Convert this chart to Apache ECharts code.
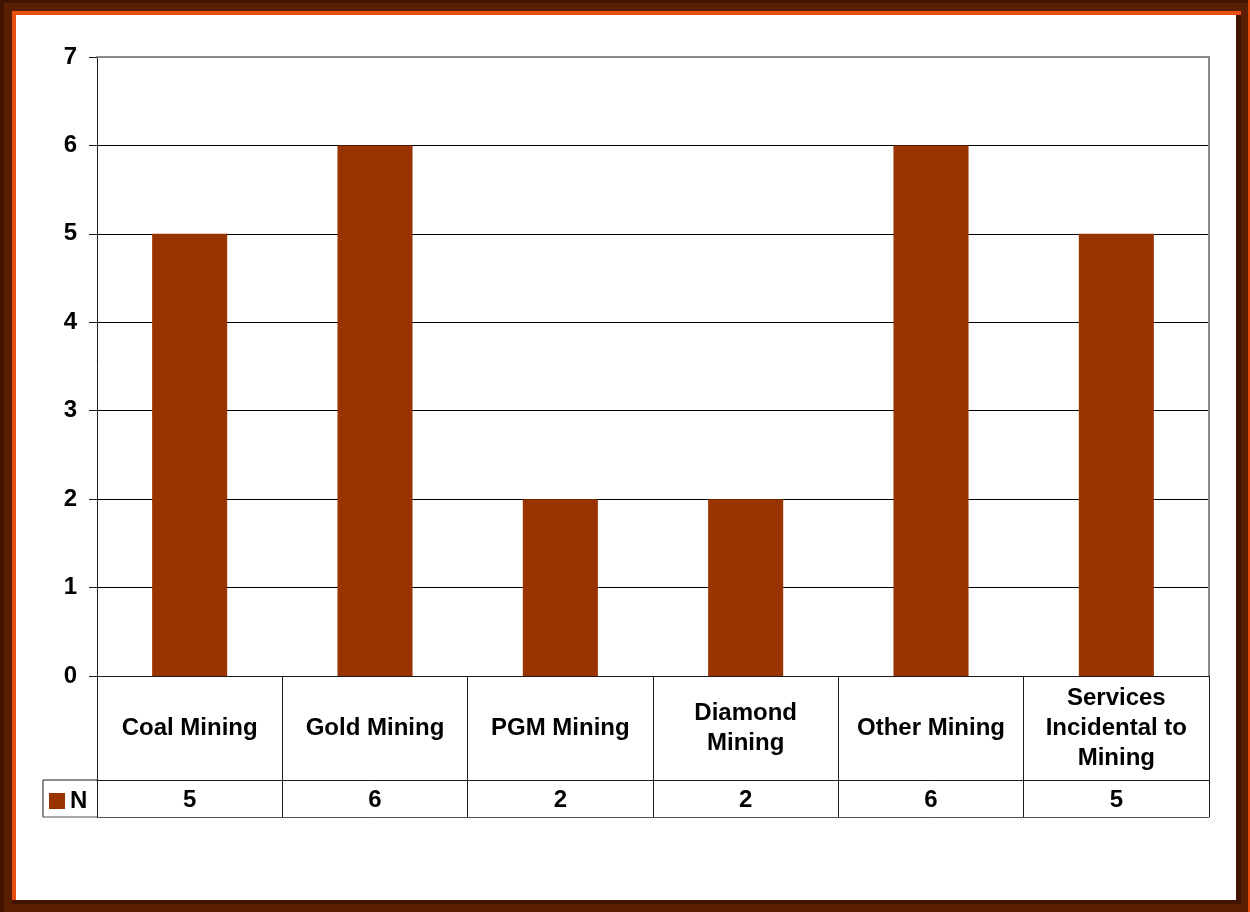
<!DOCTYPE html>
<html>
<head>
<meta charset="utf-8">
<script src="https://cdn.jsdelivr.net/npm/echarts@6/dist/echarts.min.js"></script>
<style>
  html, body { margin: 0; padding: 0; background: #5a1e00; }
  #chart { width: 1250px; height: 912px; }
</style>
</head>
<body>
<div id="chart"></div>
<script>
// Mining sub-sectors and the number of respondents (N) in each
const categories = ['Coal Mining', 'Gold Mining', 'PGM Mining', 'Diamond\nMining', 'Other Mining', 'Services\nIncidental to\nMining'];
const seriesName = 'N';
const counts = [5, 6, 2, 2, 6, 5];
const yMin = 0, yMax = 7, yStep = 1;

const W = 1250, H = 912;
const gridLeft = 97, gridRight = 41, gridTop = 57, gridBottom = 236;
const labelRow = 104;   // height of the category-name row under the plot
const valueRow = 37;    // height of the data-table row
const tableLeft = 43;
const FONT = '"Liberation Sans", Arial, sans-serif';
const BAR = '#993300';
const LINE = '#1a1a1a';

const axisY = H - gridBottom;

const chart = echarts.init(document.getElementById('chart'), null, { renderer: 'canvas' });

const txt = { fontFamily: FONT, fontWeight: 'bold', fontSize: 24, color: '#000' };

chart.setOption({
  backgroundColor: '#5a1e00',
  animation: false,
  grid: { left: gridLeft, right: gridRight, top: gridTop, bottom: gridBottom, containLabel: false },
  legend: {
    data: [seriesName],
    left: 49, top: 789, padding: 0,
    icon: 'rect', itemWidth: 16, itemHeight: 16, itemGap: 6,
    textStyle: Object.assign({}, txt, { padding: [0, 0, 0, 0] }),
    selectedMode: false
  },
  xAxis: [
    {
      type: 'category', data: categories, position: 'bottom',
      axisLine: { show: true, onZero: false, lineStyle: { color: LINE, width: 1 } },
      axisTick: { show: true, length: labelRow + valueRow, lineStyle: { color: LINE, width: 1 } },
      axisLabel: Object.assign({ interval: 0, margin: labelRow / 2, verticalAlign: 'middle', lineHeight: 30, align: 'center' }, txt),
      splitLine: { show: false }
    },
    {
      type: 'category', data: categories, position: 'bottom', offset: labelRow,
      axisLine: { show: true, onZero: false, lineStyle: { color: LINE, width: 1 } },
      axisTick: { show: false },
      axisLabel: Object.assign({ interval: 0, margin: valueRow / 2 + 2, verticalAlign: 'middle',
        formatter: (v, i) => String(counts[i]) }, txt),
      splitLine: { show: false }
    },
    {
      type: 'category', data: categories, position: 'bottom', offset: labelRow + valueRow,
      axisLine: { show: true, onZero: false, lineStyle: { color: '#555', width: 1 } },
      axisTick: { show: false }, axisLabel: { show: false }, splitLine: { show: false }
    },
    {
      type: 'category', data: categories, position: 'top',
      axisLine: { show: true, onZero: false, lineStyle: { color: '#8a8a8a', width: 2 } },
      axisTick: { show: false }, axisLabel: { show: false }, splitLine: { show: false }
    }
  ],
  yAxis: [
    {
      type: 'value', min: yMin, max: yMax, interval: yStep,
      axisLine: { show: true, onZero: false, lineStyle: { color: LINE, width: 1 } },
      axisTick: { show: true, length: 8, lineStyle: { color: LINE } },
      axisLabel: Object.assign({ margin: 20 }, txt),
      splitLine: { show: true, lineStyle: { color: '#000', width: 1 } }
    },
    {
      type: 'value', min: yMin, max: yMax, interval: yStep, position: 'right',
      axisLine: { show: true, onZero: false, lineStyle: { color: '#8a8a8a', width: 2 } },
      axisTick: { show: false }, axisLabel: { show: false }, splitLine: { show: false }
    }
  ],
  series: [{
    name: seriesName, type: 'bar', data: counts,
    xAxisIndex: 0, yAxisIndex: 0,
    barWidth: '40.5%',
    itemStyle: { color: BAR },
    z: 3
  }],
  graphic: [
    // frame: dark outer edge, drop shadow, orange rim and white page
    { type: 'rect', z: -20, shape: { x: 0, y: 0, width: W, height: 3 }, style: { fill: '#401400' } },
    { type: 'rect', z: -20, shape: { x: 0, y: 0, width: 4, height: H }, style: { fill: '#401400' } },
    { type: 'rect', z: -19, shape: { x: 12, y: 15, width: 1229, height: 889 }, style: { fill: '#401400' } },
    { type: 'rect', z: -18, shape: { x: 12, y: 11, width: 1229, height: 4 }, style: { fill: '#e84e0f' } },
    { type: 'rect', z: -18, shape: { x: 12, y: 11, width: 4, height: 889 }, style: { fill: '#e84e0f' } },
    { type: 'rect', z: -17, shape: { x: 16, y: 15, width: 1220, height: 885 }, style: { fill: '#ffffff' } },
    { type: 'rect', z: -17, shape: { x: 1248, y: 0, width: 2, height: H }, style: { fill: '#e84e0f' } },
    // legend cell of the data table
    { type: 'line', z: 10, shape: { x1: tableLeft, y1: axisY + labelRow, x2: 97, y2: axisY + labelRow }, style: { stroke: LINE, lineWidth: 1 } },
    { type: 'line', z: 10, shape: { x1: tableLeft, y1: axisY + labelRow + valueRow, x2: 97, y2: axisY + labelRow + valueRow }, style: { stroke: '#555', lineWidth: 1 } },
    { type: 'line', z: 10, shape: { x1: tableLeft, y1: axisY + labelRow, x2: tableLeft, y2: axisY + labelRow + valueRow }, style: { stroke: LINE, lineWidth: 1 } }
  ]
});
</script>
</body>
</html>
